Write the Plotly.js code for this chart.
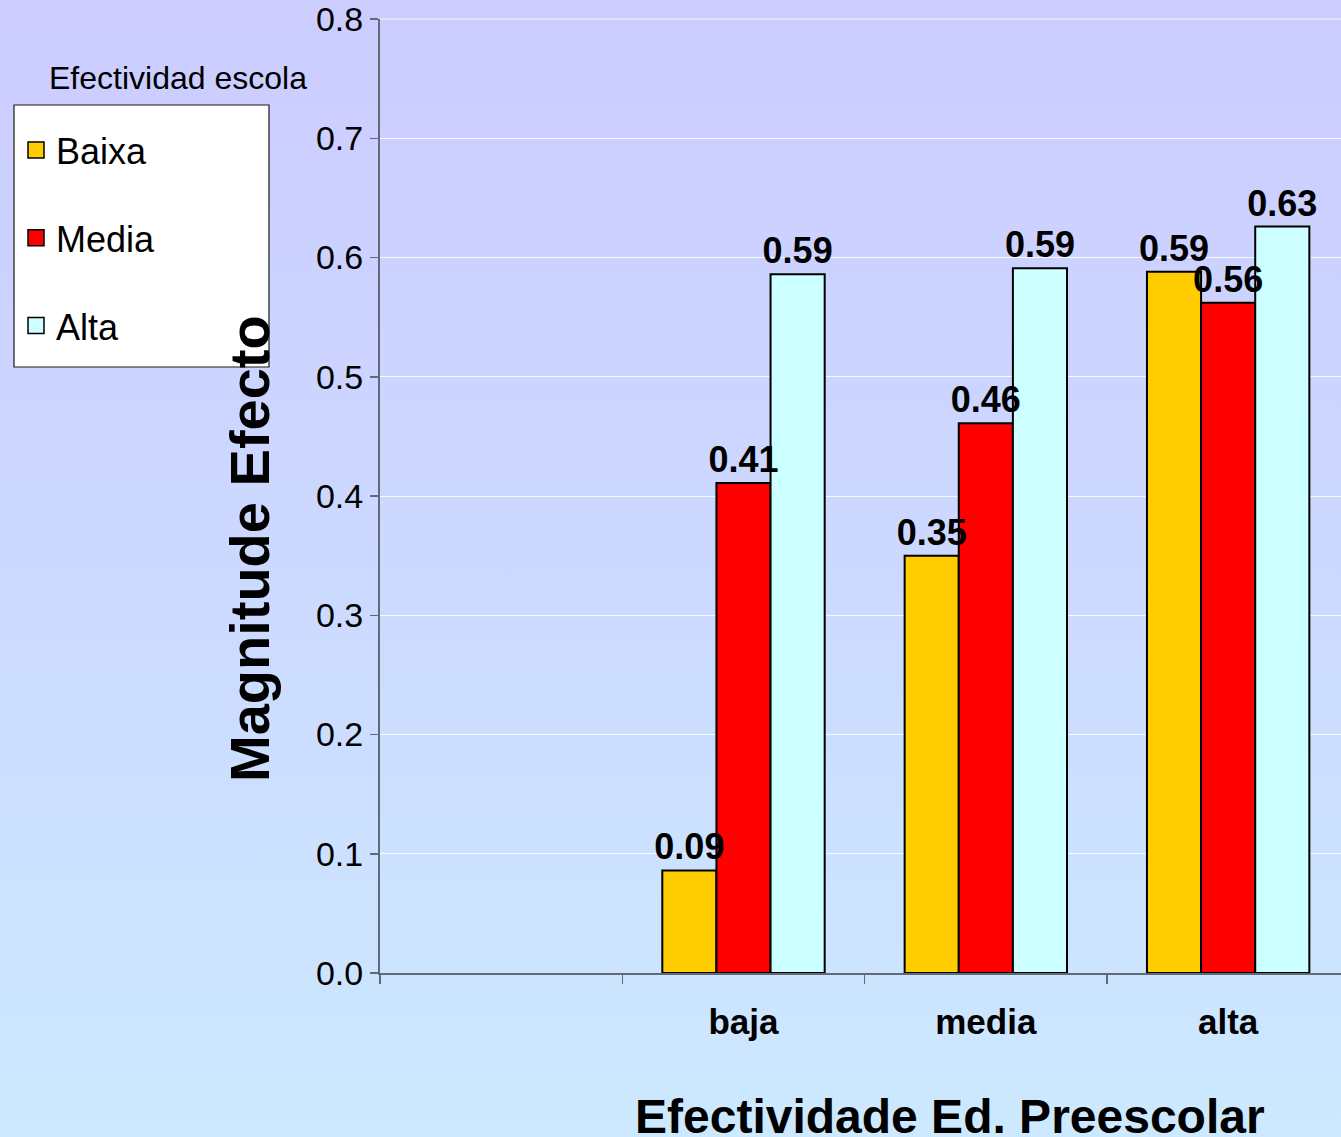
<!DOCTYPE html>
<html>
<head>
<meta charset="utf-8">
<script src="https://cdn.plot.ly/plotly-3.0.1.min.js"></script>
<style>
  html, body { margin: 0; padding: 0; }
  body { width: 1341px; height: 1137px; overflow: hidden;
         background: linear-gradient(to bottom, #ccccff 0%, #ccd9ff 50%, #cce9ff 100%); }
  #chart { width: 1341px; height: 1137px; }
</style>
</head>
<body>
<div id="chart"></div>
<script>
// ---- data ----
const categories = [' ', 'baja', 'media', 'alta'];
const seriesNames = ['Baixa', 'Media', 'Alta'];
const baixaValues = [null, 0.086, 0.350, 0.588];
const mediaValues = [null, 0.411, 0.461, 0.562];
const altaValues  = [null, 0.586, 0.591, 0.626];
const seriesColors = ['#FFCC00', '#FF0000', '#CCFFFF'];
const legendTitle = 'Efectividad escola';
const yTitle = 'Magnitude Efecto';
const xTitle = 'Efectividade Ed. Preescolar';
const yTickVals = [0, 0.1, 0.2, 0.3, 0.4, 0.5, 0.6, 0.7, 0.8];

// ---- layout geometry ----
const W = 1341, H = 1137;
const M = { l: 380, r: 0, t: 19, b: 164 };
const plotW = W - M.l - M.r, plotH = H - M.t - M.b;
const px2x = px => (px - M.l) / plotW;
const px2y = py => (H - M.b - py) / plotH;
const FONT = 'Liberation Sans, Arial, Helvetica, sans-serif';
const axisColor = '#626a78';

const allValues = [baixaValues, mediaValues, altaValues];
const traces = [];
// bars
allValues.forEach((vals, i) => {
  traces.push({
    type: 'bar',
    name: seriesNames[i],
    x: categories,
    y: vals,
    offsetgroup: 'g' + i,
    marker: { color: seriesColors[i], line: { color: '#000000', width: 2 } },
    showlegend: false,
    hoverinfo: 'x+y+name'
  });
});
// value labels drawn on top of all bars (same positions via offsetgroup)
allValues.forEach((vals, i) => {
  traces.push({
    type: 'bar',
    name: seriesNames[i] + ' labels',
    x: categories,
    y: vals,
    offsetgroup: 'g' + i,
    marker: { color: 'rgba(0,0,0,0)', line: { width: 0 } },
    texttemplate: '%{y:.2f}',
    textposition: 'outside',
    constraintext: 'none',
    cliponaxis: false,
    textfont: { family: FONT, size: 36, color: '#000000', weight: 'bold' },
    showlegend: false,
    hoverinfo: 'skip'
  });
});
// legend entries (larger square symbols)
seriesNames.forEach((name, i) => {
  traces.push({
    type: 'scatter',
    mode: 'markers',
    name: name,
    x: [null],
    y: [null],
    legendgroup: 'l' + i,
    marker: { symbol: 'square', size: 16, color: seriesColors[i], line: { color: '#000000', width: 1.5 } },
    hoverinfo: 'skip',
    showlegend: true
  });
});

const layout = {
  width: W, height: H,
  margin: M,
  paper_bgcolor: 'rgba(0,0,0,0)',
  plot_bgcolor: 'rgba(0,0,0,0)',
  font: { family: FONT, color: '#000000' },
  barmode: 'group',
  bargap: 0.33,
  bargroupgap: 0,
  showlegend: true,
  legend: {
    x: px2x(16), y: px2y(120), xanchor: 'left', yanchor: 'top',
    bgcolor: 'rgba(0,0,0,0)', borderwidth: 0,
    font: { family: FONT, size: 36, color: '#000000' },
    tracegroupgap: 38,
    itemwidth: 30
  },
  xaxis: {
    type: 'category',
    categoryorder: 'array',
    categoryarray: categories,
    range: [-0.5, -0.5 + plotW / 242.33],
    showline: true, linecolor: axisColor, linewidth: 2,
    ticks: 'outside', tickson: 'boundaries', ticklen: 9, tickwidth: 1.5, tickcolor: axisColor,
    tickfont: { family: FONT, size: 35, color: '#000000', weight: 'bold' },
    ticklabelstandoff: 17,
    showgrid: false, zeroline: false, fixedrange: true
  },
  yaxis: {
    range: [0, 0.8],
    tickvals: yTickVals,
    tickformat: '.1f',
    ticklabeloverflow: 'allow',
    showline: true, linecolor: axisColor, linewidth: 2,
    ticks: 'outside', ticklen: 8, tickwidth: 1.5, tickcolor: axisColor,
    tickfont: { family: FONT, size: 34, color: '#000000' },
    showgrid: true, gridcolor: 'rgba(255,255,255,0.85)', gridwidth: 1,
    zeroline: false, fixedrange: true
  },
  shapes: [
    { type: 'line', xref: 'paper', yref: 'paper', layer: 'below',
      x0: 0, x1: 1, y0: 1, y1: 1, line: { color: 'rgba(255,255,255,0.85)', width: 1 } },
    { type: 'rect', xref: 'paper', yref: 'paper', layer: 'above',
      x0: px2x(14), x1: px2x(269), y0: px2y(367), y1: px2y(105),
      fillcolor: '#ffffff', line: { color: '#1a1a1a', width: 1.2 } }
  ],
  annotations: [
    { text: legendTitle, xref: 'paper', yref: 'paper', x: px2x(178), y: px2y(78),
      xanchor: 'center', yanchor: 'middle', showarrow: false,
      font: { family: FONT, size: 32, color: '#000000' } },
    { text: yTitle, xref: 'paper', yref: 'paper', x: px2x(249), y: px2y(549),
      xanchor: 'center', yanchor: 'middle', showarrow: false, textangle: -90,
      font: { family: FONT, size: 56, color: '#000000', weight: 'bold' } },
    { text: xTitle, xref: 'paper', yref: 'paper', x: px2x(950), y: px2y(1116),
      xanchor: 'center', yanchor: 'middle', showarrow: false,
      font: { family: FONT, size: 48, color: '#000000', weight: 'bold' } }
  ]
};

Plotly.newPlot('chart', traces, layout, { displayModeBar: false, staticPlot: true });
</script>
</body>
</html>
